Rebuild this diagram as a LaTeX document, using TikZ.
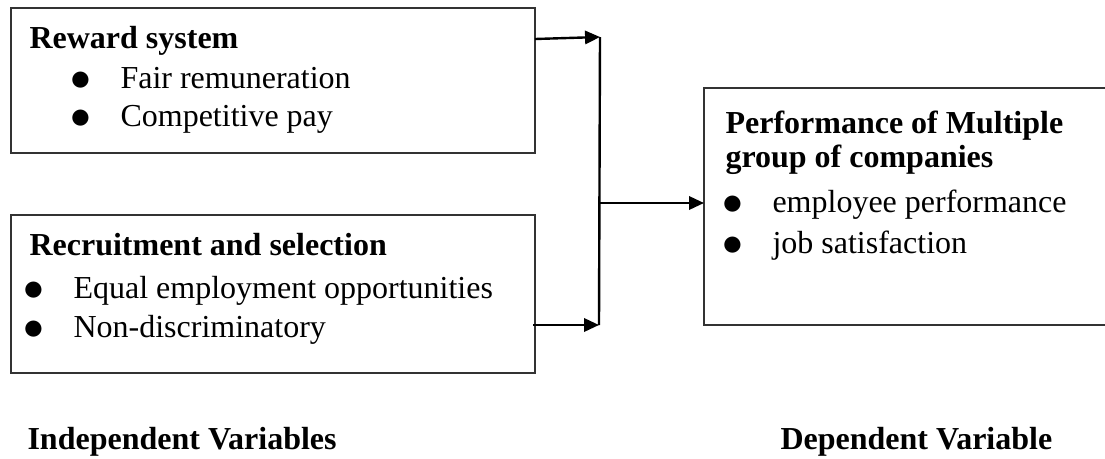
\documentclass[tikz,border=0pt]{standalone}
\usepackage{graphicx}
\usepackage{fontspec}
\setmainfont{Liberation Serif}
\usetikzlibrary{arrows.meta}
\tikzset{
  box/.style={draw=black!80, line width=0.55pt},
  txt/.style={anchor=base west, inner sep=0pt, font=\fontsize{12}{14}\selectfont},
  head/.style={txt, font=\fontsize{12}{14}\selectfont\bfseries},
  link/.style={line width=0.9pt},
  arrow/.style={link, -{Triangle[length=5.6pt,width=5pt]}}
}
\newcommand{\itm}[1]{\makebox[0pt][c]{\raisebox{-0.9pt}{\scalebox{1.3}{$\bullet$}}}\hspace{15pt}#1}

\begin{document}
\begin{tikzpicture}[x=0.375pt,y=-0.375pt]
  \useasboundingbox (0,0) rectangle (1105,458);
  % boxes
  \def\rewardbox{(11,8) rectangle (535,153)}
  \def\recruitbox{(11,215) rectangle (535,373)}
  \def\perfbox{(704,88) rectangle (1112,325)}
  \draw[box] \rewardbox;
  \draw[box] \recruitbox;
  \draw[box] \perfbox;
  % independent variables
  \node[head] (reward) at (29,48) {Reward system};
  \node[txt] (fair) at (80,88) {\itm{Fair remuneration}};
  \node[txt] (comp) at (80,126) {\itm{Competitive pay}};
  \node[head] (recruit) at (29,255) {Recruitment and selection};
  \node[txt] (equal) at (33,298) {\itm{Equal employment opportunities}};
  \node[txt] (nondisc) at (33,337) {\itm{Non-discriminatory}};
  % dependent variable
  \node[head] (perf) at (725,133) {Performance of Multiple};
  \node[head] (group) at (725,167) {group of companies};
  \node[txt] (emp) at (732,212) {\itm{employee performance}};
  \node[txt] (job) at (732,253) {\itm{job satisfaction}};
  % captions
  \node[head] (indep) at (27,449) {Independent Variables};
  \node[head] (dep) at (780,449) {Dependent Variable};
  % connectors
  \coordinate (rewardout) at (535,39);
  \coordinate (jtop) at (600,37);
  \coordinate (jmid) at (599,203);
  \coordinate (jbot) at (599,325);
  \coordinate (recruitout) at (533,325);
  \coordinate (perfin) at (704,203);
  \draw[arrow] (rewardout) -- (jtop);
  \draw[link] (jtop) -- (jbot);
  \draw[arrow] (recruitout) -- (jbot);
  \draw[arrow] (jmid) -- (perfin);
\end{tikzpicture}
\end{document}
